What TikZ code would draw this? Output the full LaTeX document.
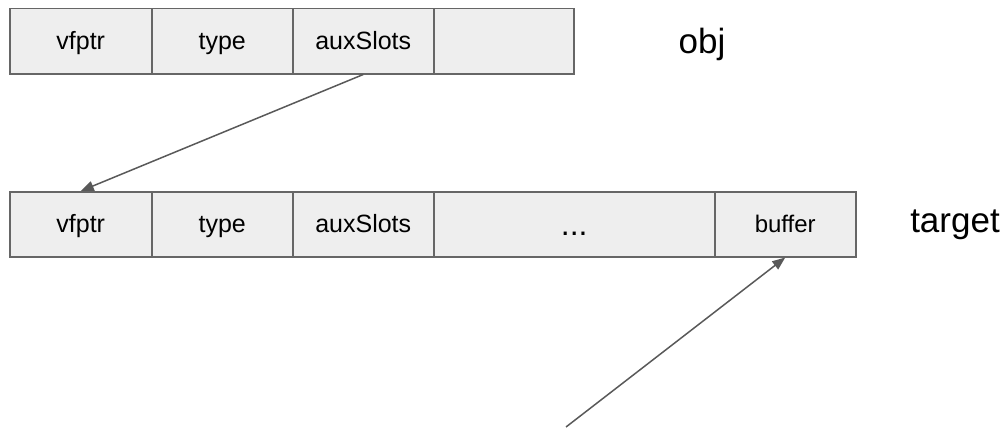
\documentclass[tikz,border=0pt]{standalone}
\usepackage{fontspec}
\setmainfont{Liberation Sans}
\usetikzlibrary{arrows.meta}
\definecolor{cellfill}{HTML}{EEEEEE}
\definecolor{celledge}{HTML}{666666}
\definecolor{arrowcol}{HTML}{595959}
\begin{document}
\begin{tikzpicture}[x=1pt,y=-1pt,
  cell/.style={draw=celledge, fill=cellfill, line width=1.5pt, rectangle,
    minimum height=65pt, inner sep=0pt, anchor=north west,
    text height=20pt, text depth=4pt,
    font=\fontsize{25}{30}\selectfont},
  lbl/.style={font=\fontsize{35}{42}\selectfont, inner sep=0pt, anchor=base},
  ptr/.style={draw=arrowcol, line width=1.5pt, -{Triangle[length=13pt,width=10pt]}}]
\useasboundingbox (0,0) rectangle (1008,428);
% obj row
\node[cell, minimum width=142pt] (a1) at (9,8) {vfptr};
\node[cell, minimum width=141pt] (a2) at (151,8) {type};
\node[cell, minimum width=141pt] (a3) at (292,8) {auxSlots};
\node[cell, minimum width=140pt] (a4) at (433,8) {};
\node[lbl] (obj) at (702,53) {obj};
% target row
\node[cell, minimum width=142pt] (b1) at (9,191) {vfptr};
\node[cell, minimum width=141pt] (b2) at (151,191) {type};
\node[cell, minimum width=141pt] (b3) at (292,191) {auxSlots};
\node[cell, minimum width=281pt, font=\fontsize{32}{38}\selectfont, text height=24pt, text depth=1pt] (b4) at (433,191) {...};
\node[cell, minimum width=141pt, font=\fontsize{24}{29}\selectfont] (b5) at (714,191) {buffer};
\node[lbl] (target) at (955,232) {target};
% pointers
\draw[ptr] (a3.south) -- (b1.north);
\coordinate (src) at (566,427);
\draw[ptr] (src) -- (b5.south);
\end{tikzpicture}
\end{document}
